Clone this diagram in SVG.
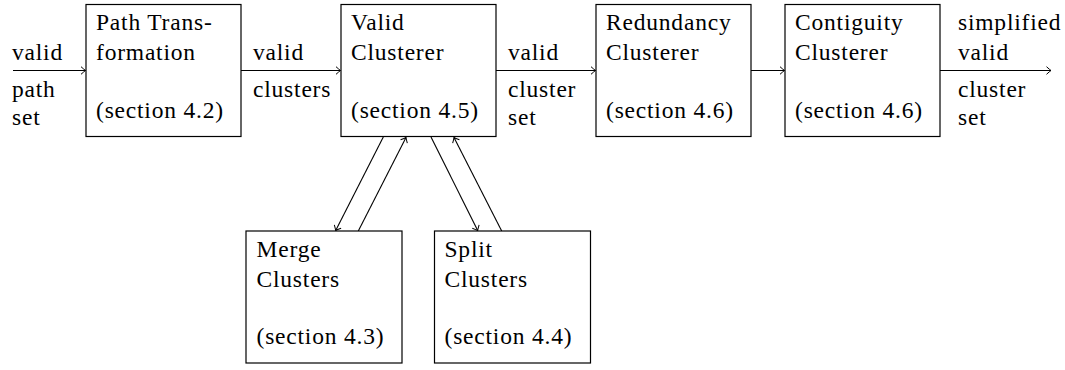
<svg xmlns="http://www.w3.org/2000/svg" width="1065" height="370" viewBox="0 0 1065 370">
<style>
.box{fill:#fff;stroke:#000;stroke-width:1.2}
.t{font-size:23.5px;letter-spacing:0.8px;fill:#000}
.c{fill:none;stroke:#000;stroke-width:1.1}
</style>
<defs>
<marker id="ah" viewBox="-6 -5 8 10" refX="0" refY="0" markerWidth="8" markerHeight="10" markerUnits="userSpaceOnUse" orient="auto">
<path d="M-4.5,-3.8 Q-1.2,-0.8 0,0 Q-1.2,0.8 -4.5,3.8" fill="none" stroke="#000" stroke-width="1"/>
</marker>
</defs>
<g font-family="Liberation Serif, Times New Roman, serif">
<g id="connectors">
<line class="c" x1="13" y1="70.5" x2="85.5" y2="70.5" marker-end="url(#ah)"/>
<line class="c" x1="241" y1="70.5" x2="340.5" y2="70.5" marker-end="url(#ah)"/>
<line class="c" x1="496" y1="70.5" x2="595.5" y2="70.5" marker-end="url(#ah)"/>
<line class="c" x1="751" y1="70.5" x2="784.5" y2="70.5" marker-end="url(#ah)"/>
<line class="c" x1="940" y1="70.5" x2="1051" y2="70.5" marker-end="url(#ah)"/>
<line class="c" x1="383.3" y1="137" x2="335.7" y2="230.5" marker-end="url(#ah)"/>
<line class="c" x1="358.3" y1="231" x2="406" y2="137.5" marker-end="url(#ah)"/>
<line class="c" x1="431" y1="137" x2="477.7" y2="230.5" marker-end="url(#ah)"/>
<line class="c" x1="501.7" y1="231" x2="454" y2="137.5" marker-end="url(#ah)"/>
<text class="t" x="12" y="60">valid</text>
<text class="t" x="12" y="97">path</text>
<text class="t" x="12" y="125">set</text>
<text class="t" x="253" y="60">valid</text>
<text class="t" x="253" y="97">clusters</text>
<text class="t" x="508" y="60">valid</text>
<text class="t" x="508" y="97">cluster</text>
<text class="t" x="508" y="125">set</text>
<text class="t" x="958" y="30">simplified</text>
<text class="t" x="958" y="60">valid</text>
<text class="t" x="958" y="97">cluster</text>
<text class="t" x="958" y="125">set</text>
</g>
<g id="path-transformation">
<rect class="box" x="86" y="4.5" width="155" height="132"/>
<text class="t" x="96" y="30">Path Trans-</text>
<text class="t" x="96" y="60">formation</text>
<text class="t" x="96" y="118">(section 4.2)</text>
</g>
<g id="valid-clusterer">
<rect class="box" x="341" y="4.5" width="155" height="132"/>
<text class="t" x="351" y="30">Valid</text>
<text class="t" x="351" y="60">Clusterer</text>
<text class="t" x="351" y="118">(section 4.5)</text>
</g>
<g id="redundancy-clusterer">
<rect class="box" x="596" y="4.5" width="155" height="132"/>
<text class="t" x="606" y="30">Redundancy</text>
<text class="t" x="606" y="60">Clusterer</text>
<text class="t" x="606" y="118">(section 4.6)</text>
</g>
<g id="contiguity-clusterer">
<rect class="box" x="785" y="4.5" width="155" height="132"/>
<text class="t" x="795" y="30">Contiguity</text>
<text class="t" x="795" y="60">Clusterer</text>
<text class="t" x="795" y="118">(section 4.6)</text>
</g>
<g id="merge-clusters">
<rect class="box" x="246" y="231" width="156" height="132"/>
<text class="t" x="256.5" y="257">Merge</text>
<text class="t" x="256.5" y="287">Clusters</text>
<text class="t" x="256.5" y="344">(section 4.3)</text>
</g>
<g id="split-clusters">
<rect class="box" x="434.5" y="231" width="156" height="132"/>
<text class="t" x="444.5" y="257">Split</text>
<text class="t" x="444.5" y="287">Clusters</text>
<text class="t" x="444.5" y="344">(section 4.4)</text>
</g>
</g>
</svg>
